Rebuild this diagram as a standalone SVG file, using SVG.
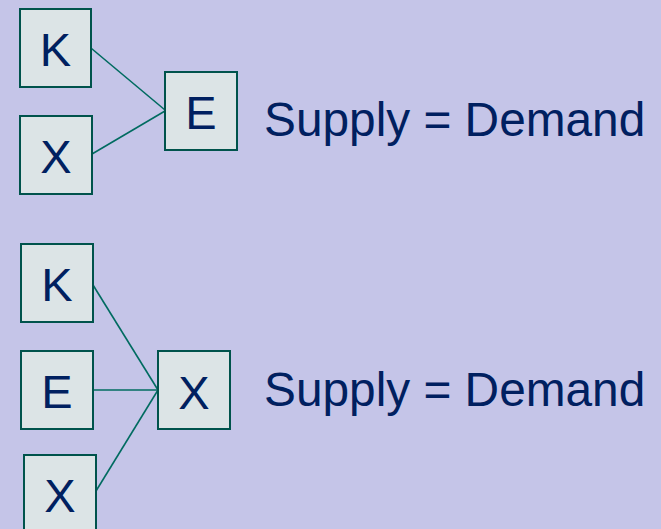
<svg xmlns="http://www.w3.org/2000/svg" width="661" height="529" viewBox="0 0 661 529">
<style>
.box{fill:#DCE4E6;stroke:#00534C;stroke-width:2}
.lbl{font-family:"Liberation Sans",Arial,sans-serif;font-size:47px;fill:#002060;text-anchor:middle}
.eq{font-family:"Liberation Sans",Arial,sans-serif;font-size:47.8px;fill:#002060}
.con{stroke:#006B60;stroke-width:1.6;fill:none}
</style>
<rect width="661" height="529" fill="#C5C5E8"/>
<g id="connectors">
<line class="con" x1="91.5" y1="48.5" x2="165" y2="110"/>
<line class="con" x1="92" y1="154" x2="165" y2="111"/>
<line class="con" x1="93" y1="285" x2="158" y2="390"/>
<line class="con" x1="93" y1="390" x2="158" y2="390"/>
<line class="con" x1="96" y1="491" x2="158" y2="390"/>
</g>
<g id="k1"><rect class="box" x="20" y="9" width="71" height="78"/><text class="lbl" x="55.5" y="65.5">K</text></g>
<g id="x1"><rect class="box" x="20" y="116" width="72" height="78"/><text class="lbl" x="56" y="173">X</text></g>
<g id="e1"><rect class="box" x="165" y="72" width="72" height="78"/><text class="lbl" x="201" y="129">E</text></g>
<g id="eq1"><text class="eq" x="264" y="136">Supply = Demand</text></g>
<g id="k2"><rect class="box" x="21" y="244" width="72" height="78"/><text class="lbl" x="57" y="301">K</text></g>
<g id="e2"><rect class="box" x="21" y="351" width="72" height="78"/><text class="lbl" x="57" y="408">E</text></g>
<g id="x3"><rect class="box" x="24" y="455" width="72" height="78"/><text class="lbl" x="60" y="512">X</text></g>
<g id="x2"><rect class="box" x="158" y="351" width="72" height="78"/><text class="lbl" x="194" y="408.5">X</text></g>
<g id="eq2"><text class="eq" x="264" y="406">Supply = Demand</text></g>
</svg>
